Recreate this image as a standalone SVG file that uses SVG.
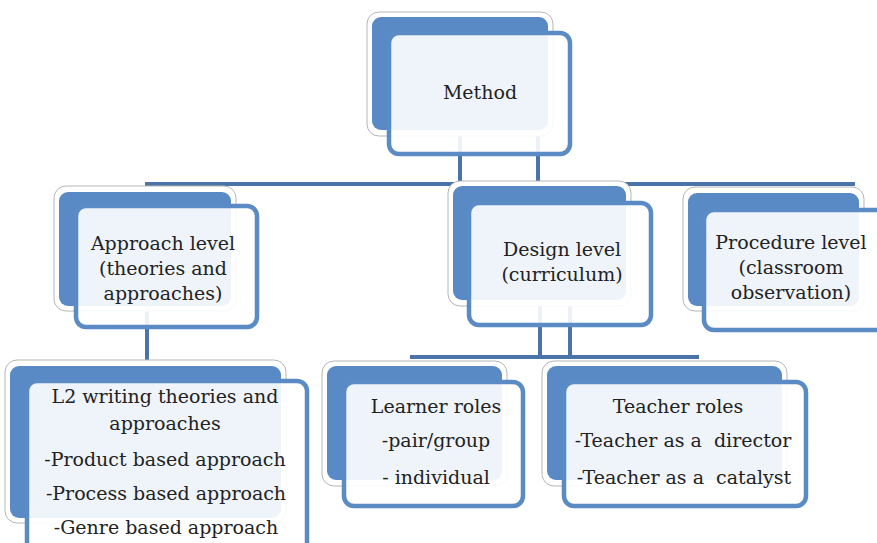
<svg xmlns="http://www.w3.org/2000/svg" width="877" height="543" viewBox="0 0 877 543">
<style>
.bo{fill:#fff;stroke:#b5b5b5;stroke-width:1}
.bi{fill:#5a8ac6}
.fr{fill:#fff;fill-opacity:0.9;stroke:#5b8bc5;stroke-width:4.5}
.c{stroke:#4a74a8;stroke-width:4;fill:none}
.t{font-family:'DejaVu Serif',serif;font-size:19px;fill:#222;text-anchor:middle}
</style>
<rect width="877" height="543" fill="#fff"/>
<g id="connectors">
<path class="c" d="M460 136V185M538 136V185M145 184H855"/>
<path class="c" d="M147 310V362"/>
<path class="c" d="M540 305V357M570 305V357M410 357H699"/>
</g>
<g id="method">
<rect class="bo" x="367" y="12" width="186" height="124" rx="12"/>
<rect class="bi" x="372" y="17" width="176" height="113" rx="9"/>
<rect class="fr" x="389" y="33" width="181" height="121" rx="10"/>
<text class="t" x="480" y="99">Method</text>
</g>
<g id="approach">
<rect class="bo" x="54" y="186" width="182" height="125" rx="12"/>
<rect class="bi" x="59" y="192" width="172" height="114" rx="9"/>
<rect class="fr" x="76" y="206" width="181" height="121" rx="10"/>
<text class="t" x="163" y="250">Approach level</text>
<text class="t" x="163" y="275">(theories and</text>
<text class="t" x="163" y="300">approaches)</text>
</g>
<g id="design">
<rect class="bo" x="448" y="181" width="183" height="125" rx="12"/>
<rect class="bi" x="453" y="186" width="173" height="114" rx="9"/>
<rect class="fr" x="469" y="203" width="182" height="122" rx="10"/>
<text class="t" x="562" y="256">Design level</text>
<text class="t" x="562" y="281">(curriculum)</text>
</g>
<g id="procedure">
<rect class="bo" x="683" y="187" width="181" height="124" rx="12"/>
<rect class="bi" x="688" y="193" width="171" height="113" rx="9"/>
<rect class="fr" x="704" y="210" width="184" height="120" rx="10"/>
<text class="t" x="791" y="249">Procedure level</text>
<text class="t" x="791" y="274">(classroom</text>
<text class="t" x="791" y="299">observation)</text>
</g>
<g id="l2">
<rect class="bo" x="5" y="360" width="281" height="163" rx="12"/>
<rect class="bi" x="10" y="366" width="271" height="152" rx="9"/>
<rect class="fr" x="27" y="381" width="280" height="175" rx="10"/>
<text class="t" x="165" y="403">L2 writing theories and</text>
<text class="t" x="165" y="430">approaches</text>
<text class="t" x="165" y="466">-Product based approach</text>
<text class="t" x="166" y="500">-Process based approach</text>
<text class="t" x="166" y="534">-Genre based approach</text>
</g>
<g id="learner">
<rect class="bo" x="322" y="361" width="185" height="125" rx="12"/>
<rect class="bi" x="327" y="366" width="175" height="114" rx="9"/>
<rect class="fr" x="344" y="382" width="179" height="124" rx="10"/>
<text class="t" x="436" y="413">Learner roles</text>
<text class="t" x="436" y="447">-pair/group</text>
<text class="t" x="436" y="484">- individual</text>
</g>
<g id="teacher">
<rect class="bo" x="542" y="361" width="245" height="125" rx="12"/>
<rect class="bi" x="547" y="366" width="235" height="114" rx="9"/>
<rect class="fr" x="564" y="382" width="242" height="124" rx="10"/>
<text class="t" x="678" y="413">Teacher roles</text>
<text class="t" x="683" y="447" xml:space="preserve">-Teacher as a  director</text>
<text class="t" x="684" y="484" xml:space="preserve">-Teacher as a  catalyst</text>
</g>
</svg>
